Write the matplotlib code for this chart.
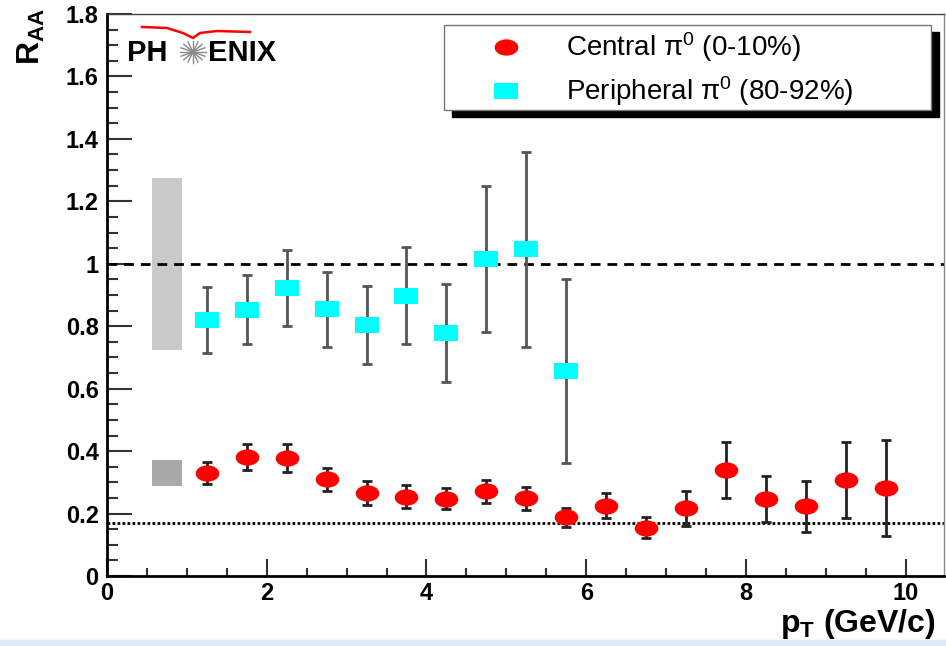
import numpy as np
import matplotlib
matplotlib.use("Agg")
import matplotlib.pyplot as plt
from matplotlib.path import Path
from matplotlib.patches import Rectangle
from matplotlib.lines import Line2D
from matplotlib.ticker import MultipleLocator

plt.rcParams['font.family'] = ['Liberation Sans', 'DejaVu Sans']
plt.rcParams['mathtext.fontset'] = 'custom'
plt.rcParams['mathtext.rm'] = 'Liberation Sans'
plt.rcParams['mathtext.it'] = 'Liberation Sans:italic'
plt.rcParams['mathtext.bf'] = 'Liberation Sans:bold'

# R_AA of pi0, central (0-10%) and peripheral (80-92%)
central_pt = [1.25, 1.75, 2.25, 2.75, 3.25, 3.75, 4.25, 4.75, 5.25,
              5.75, 6.25, 6.75, 7.25, 7.75, 8.25, 8.75, 9.25, 9.75]
central_raa = [0.331, 0.380, 0.379, 0.311, 0.265, 0.254, 0.247, 0.272, 0.249,
               0.190, 0.225, 0.155, 0.217, 0.341, 0.246, 0.224, 0.307, 0.282]
central_hi = [0.366, 0.423, 0.423, 0.347, 0.303, 0.293, 0.281, 0.308, 0.286,
              0.219, 0.266, 0.188, 0.271, 0.429, 0.319, 0.305, 0.429, 0.434]
central_lo = [0.295, 0.338, 0.334, 0.272, 0.228, 0.217, 0.215, 0.235, 0.212,
              0.158, 0.185, 0.123, 0.160, 0.249, 0.172, 0.142, 0.185, 0.128]

periph_pt = [1.25, 1.75, 2.25, 2.75, 3.25, 3.75, 4.25, 4.75, 5.25, 5.75]
periph_raa = [0.820, 0.853, 0.923, 0.856, 0.804, 0.898, 0.778, 1.016, 1.048, 0.658]
periph_hi = [0.926, 0.964, 1.044, 0.974, 0.929, 1.053, 0.935, 1.248, 1.359, 0.951]
periph_lo = [0.715, 0.744, 0.802, 0.735, 0.679, 0.743, 0.620, 0.781, 0.735, 0.363]

# normalization uncertainty boxes (peripheral, central)
box_center = [1.0, 0.33]
box_half = [0.276, 0.042]
box_colors = ['#c9c9c9', '#a9a9a9']

ncoll_line = 0.17
y_ticks = [0, 0.2, 0.4, 0.6, 0.8, 1.0, 1.2, 1.4, 1.6, 1.8]
y_ticklabels = ['0', '0.2', '0.4', '0.6', '0.8', '1', '1.2', '1.4', '1.6', '1.8']
x_ticks = [0, 2, 4, 6, 8, 10]

W, H = 946, 646
fig = plt.figure(figsize=(W / 100, H / 100), dpi=100)
ax = fig.add_axes([107 / W, (H - 576) / H, (944 - 107) / W, (576 - 14) / H])

# stretched marker shapes
ell = Path.unit_circle()
ell = Path(ell.vertices * [1.45, 1.0], ell.codes)
rect = Path([(-1.4, -1), (1.4, -1), (1.4, 1), (-1.4, 1), (-1.4, -1)],
            [Path.MOVETO, Path.LINETO, Path.LINETO, Path.LINETO, Path.CLOSEPOLY])

for c, h, col in zip(box_center, box_half, box_colors):
    ax.bar(0.75, 2 * h, bottom=c - h, width=0.38, color=col, zorder=1)

ax.axhline(1.0, color='black', lw=2, ls=(0, (3.5, 2.5)), zorder=2)
ax.axhline(ncoll_line, color='black', lw=2, ls=(0, (1, 0.8)), zorder=2)

c_y = np.array(central_raa)
p_y = np.array(periph_raa)
ax.errorbar(periph_pt, p_y, yerr=[p_y - np.array(periph_lo), np.array(periph_hi) - p_y],
            fmt='none', ecolor='#555555', elinewidth=2, capsize=3.5, capthick=2, zorder=3)
ax.plot(periph_pt, p_y, ls='none', marker=rect, ms=17, color='cyan', mew=0, zorder=4)
ax.errorbar(central_pt, c_y, yerr=[c_y - np.array(central_lo), np.array(central_hi) - c_y],
            fmt='none', ecolor='#222222', elinewidth=2, capsize=3.5, capthick=2, zorder=3)
ax.plot(central_pt, c_y, ls='none', marker=ell, ms=17, color='red', mew=0, zorder=4)

ax.set_xlim(0, 10.48)
ax.set_ylim(0, 1.8)
ax.set_yticks(y_ticks)
ax.set_yticklabels(y_ticklabels)
ax.set_xticks(x_ticks)
ax.xaxis.set_minor_locator(MultipleLocator(0.5))
ax.yaxis.set_minor_locator(MultipleLocator(0.05))
ax.tick_params(axis='both', which='both', direction='in', width=1.5, color='#333333',
               top=False, right=False)
ax.tick_params(axis='y', which='major', length=18, labelsize=17, pad=6)
ax.tick_params(axis='y', which='minor', length=8)
ax.tick_params(axis='x', which='major', length=12, labelsize=17, pad=4)
ax.tick_params(axis='x', which='minor', length=6)
for lab in ax.get_xticklabels() + ax.get_yticklabels():
    lab.set_fontweight('bold')
ax.spines['left'].set_linewidth(2)
ax.spines['bottom'].set_linewidth(2)
ax.spines['top'].set_linewidth(1)
ax.spines['top'].set_color('#444444')
ax.spines['right'].set_linewidth(1)
ax.spines['right'].set_color('#888888')

fig.text(31 / W, 1 - 36 / H, r'$\mathbf{R}_{\mathbf{AA}}$', rotation=90,
         fontsize=23, ha='center', va='center')
fig.text(936 / W, 1 - 624 / H, r'$\mathbf{p}_{\mathbf{T}}$ (GeV/c)', fontsize=23,
         fontweight='bold', ha='right', va='center')

# legend box with drop shadow
fig.patches.append(Rectangle((452 / W, 1 - 117 / H), (939 - 452) / W, (117 - 32) / H,
                             transform=fig.transFigure, color='black', zorder=5))
fig.patches.append(Rectangle((444 / W, 1 - 110 / H), (931 - 444) / W, (110 - 25) / H,
                             transform=fig.transFigure, facecolor='white',
                             edgecolor='#777777', lw=1, zorder=6))
fig.lines.append(Line2D([506 / W], [1 - 47 / H], transform=fig.transFigure, ls='none',
                        marker=ell, ms=17, color='red', mew=0, zorder=7))
fig.lines.append(Line2D([506 / W], [1 - 91 / H], transform=fig.transFigure, ls='none',
                        marker=rect, ms=17, color='cyan', mew=0, zorder=7))
fig.text(566 / W, 1 - 47 / H, r'Central $\mathrm{\pi}^{0}$ (0-10%)', fontsize=20,
         ha='left', va='center', zorder=8)
fig.text(566 / W, 1 - 91 / H, r'Peripheral $\mathrm{\pi}^{0}$ (80-92%)', fontsize=20,
         ha='left', va='center', zorder=8)

# PHENIX logo
fig.text(167 / W, 1 - 53 / H, 'PH', fontsize=21, fontweight='bold', ha='right', va='center')
fig.text(208 / W, 1 - 53 / H, 'ENIX', fontsize=21, fontweight='bold', ha='left', va='center')
sx = [142, 167, 183, 193, 200, 217, 250]
sy = [27, 28, 33, 38, 33, 31, 32]
fig.lines.append(Line2D([x / W for x in sx], [1 - y / H for y in sy],
                        transform=fig.transFigure, color='red', lw=1.8))
for a in np.linspace(0, np.pi, 9)[:-1]:
    dx, dy = 13 * np.cos(a), 11 * np.sin(a)
    fig.lines.append(Line2D([(193 - dx) / W, (193 + dx) / W],
                            [1 - (52 - dy) / H, 1 - (52 + dy) / H],
                            transform=fig.transFigure, color='#888888', lw=1))

# light strip along the bottom edge
fig.patches.append(Rectangle((0, 0), 1, 6 / H, transform=fig.transFigure,
                             color='#dde9f6', zorder=0))

fig.savefig('out.png', dpi=100)
